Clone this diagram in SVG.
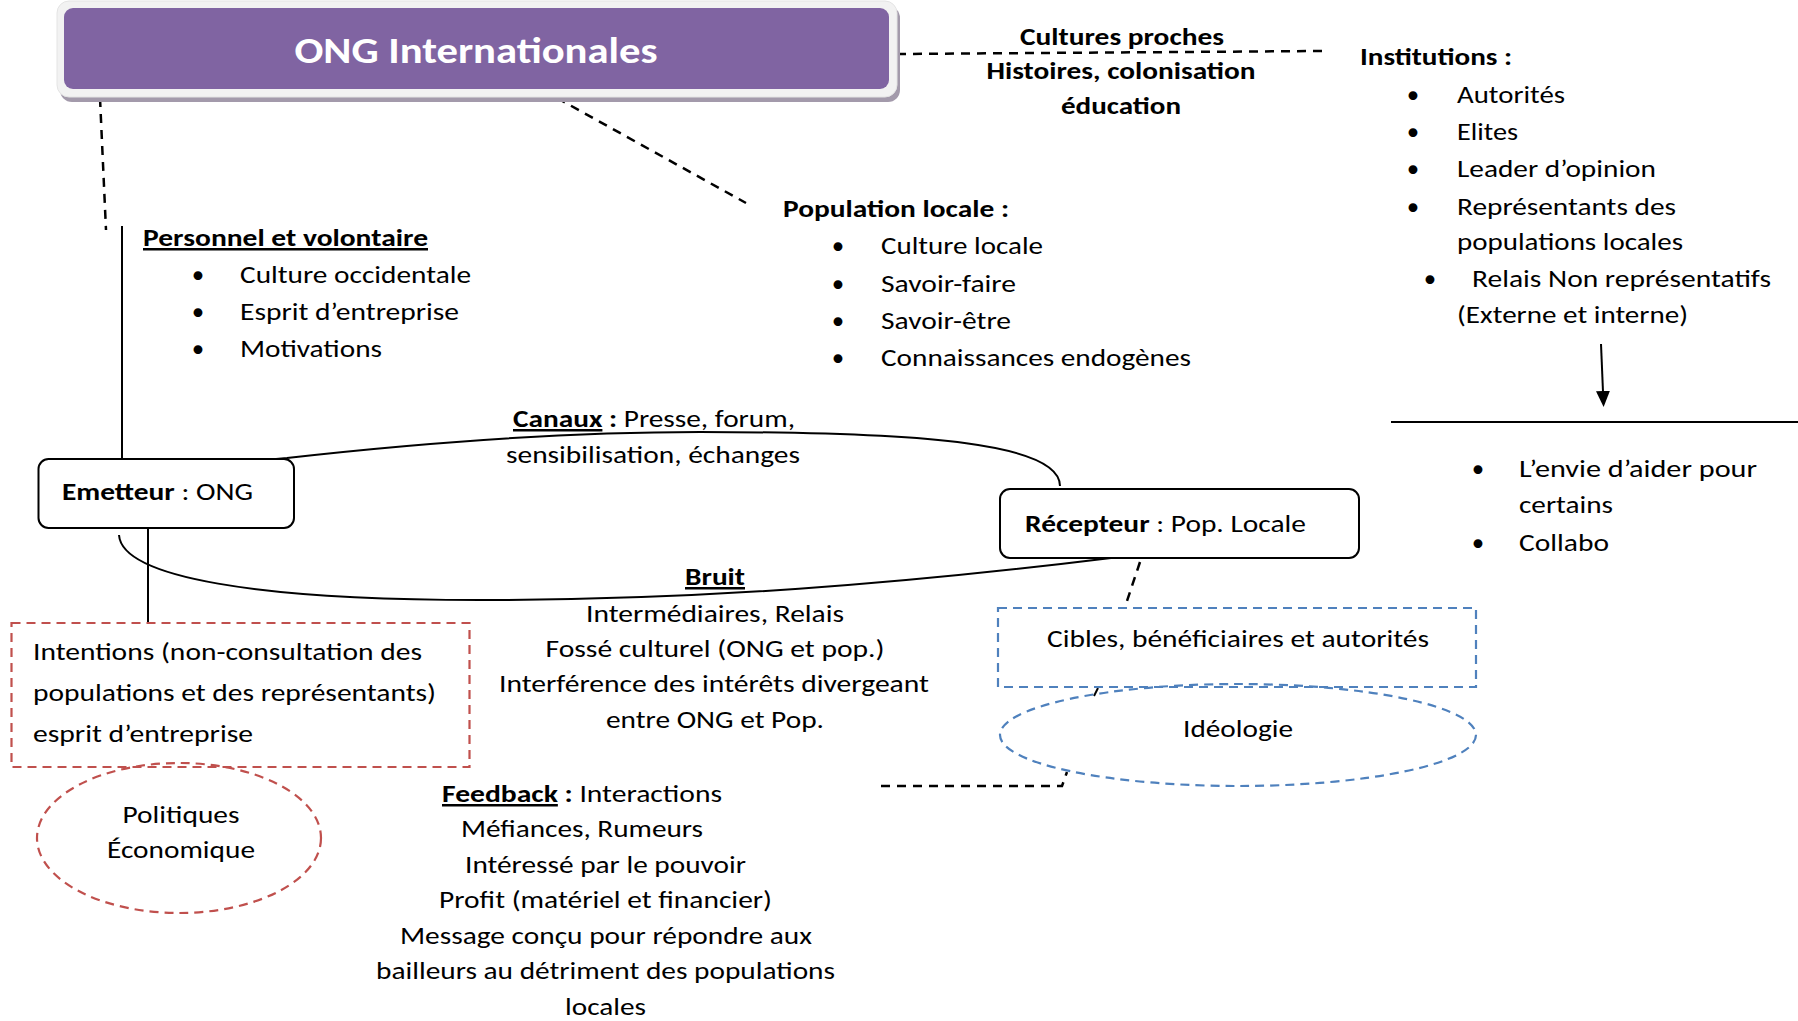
<svg xmlns="http://www.w3.org/2000/svg" width="1798" height="1021" viewBox="0 0 1798 1021">
<style>
text{font-family:Carlito,Lato,"Open Sans",sans-serif;font-size:25px;fill:#000}
.b{font-weight:bold}
.u{text-decoration:underline}
.m{text-anchor:middle}
.ln{fill:none;stroke:#000;stroke-width:2}
.dk{fill:none;stroke:#000;stroke-width:2.5;stroke-dasharray:9 7}
.red{fill:none;stroke:#c0504d;stroke-width:2.2;stroke-dasharray:9 6}
.blue{fill:none;stroke:#4f81bd;stroke-width:2.2;stroke-dasharray:9 6}
.box{fill:#fff;stroke:#000;stroke-width:2}
</style>
<defs>
<marker id="ah" markerWidth="16" markerHeight="14" refX="1" refY="7" orient="auto" markerUnits="userSpaceOnUse" viewBox="0 0 16 14">
<path d="M0,0 L16,7 L0,14 Z" fill="#000"/>
</marker>
</defs>
<rect width="1798" height="1021" fill="#fff"/>

<g id="connectors">
<line class="dk" x1="100" y1="98" x2="106" y2="230"/>
<line class="ln" x1="122" y1="226" x2="122" y2="459"/>
<line class="dk" x1="557" y1="98" x2="746" y2="203"/>
<line class="dk" x1="897" y1="54" x2="1322" y2="51"/>
<line class="ln" x1="1601" y1="344" x2="1603" y2="392" marker-end="url(#ah)"/>
<line class="ln" x1="1391" y1="422" x2="1798" y2="422" stroke-width="2.5"/>
<path class="ln" d="M242,462 L287,458 C420,443 560,432 700,432 C930,432 1060,444 1060,486"/>
<path class="ln" d="M119,535 C122,578 260,600 480,600 C700,600 900,584 1111,558"/>
<line class="ln" x1="148" y1="526" x2="148" y2="622"/>
<line class="dk" x1="1140" y1="562" x2="1125" y2="607" stroke-width="2.2"/>
<line class="ln" x1="1098" y1="688" x2="1094" y2="696"/>
<polyline class="dk" points="881,786 1062,786 1067,772"/>
</g>

<g id="ong">
<rect x="60" y="6" width="840" height="96" rx="12" fill="#a39aab"/>
<rect x="57" y="1" width="840" height="96" rx="12" fill="#f2f2f2" stroke="#e4e4e4" stroke-width="1"/>
<rect x="64" y="8" width="825" height="81" rx="9" fill="#8064a2"/>
<text class="b m" x="476" y="63" style="font-size:36px;fill:#fff" textLength="363" lengthAdjust="spacingAndGlyphs">ONG Internationales</text>
</g>

<g id="cultures">
<text class="b m" x="1122" y="45" textLength="204" lengthAdjust="spacingAndGlyphs">Cultures proches</text>
<text class="b m" x="1121" y="79" textLength="269" lengthAdjust="spacingAndGlyphs">Histoires, colonisation</text>
<text class="b m" x="1121" y="114" textLength="120" lengthAdjust="spacingAndGlyphs">éducation</text>
</g>

<g id="institutions">
<text class="b" x="1360" y="65" textLength="152" lengthAdjust="spacingAndGlyphs">Institutions :</text>
<text class="m" x="1413" y="103">•</text>
<text x="1457" y="103" textLength="108" lengthAdjust="spacingAndGlyphs">Autorités</text>
<text class="m" x="1413" y="140">•</text>
<text x="1457" y="140" textLength="61" lengthAdjust="spacingAndGlyphs">Elites</text>
<text class="m" x="1413" y="177">•</text>
<text x="1457" y="177" textLength="199" lengthAdjust="spacingAndGlyphs">Leader d’opinion</text>
<text class="m" x="1413" y="215">•</text>
<text x="1457" y="215" textLength="219" lengthAdjust="spacingAndGlyphs">Représentants des</text>
<text x="1457" y="250" textLength="226" lengthAdjust="spacingAndGlyphs">populations locales</text>
<text class="m" x="1430" y="287">•</text>
<text x="1472" y="287" textLength="299" lengthAdjust="spacingAndGlyphs">Relais Non représentatifs</text>
<text x="1457" y="323" textLength="231" lengthAdjust="spacingAndGlyphs">(Externe et interne)</text>
</g>

<g id="population">
<text class="b" x="783" y="217" textLength="226" lengthAdjust="spacingAndGlyphs">Population locale :</text>
<text class="m" x="838" y="254">•</text>
<text x="881" y="254" textLength="162" lengthAdjust="spacingAndGlyphs">Culture locale</text>
<text class="m" x="838" y="292">•</text>
<text x="881" y="292" textLength="135" lengthAdjust="spacingAndGlyphs">Savoir-faire</text>
<text class="m" x="838" y="329">•</text>
<text x="881" y="329" textLength="130" lengthAdjust="spacingAndGlyphs">Savoir-être</text>
<text class="m" x="838" y="366">•</text>
<text x="881" y="366" textLength="310" lengthAdjust="spacingAndGlyphs">Connaissances endogènes</text>
</g>

<g id="personnel">
<text class="b u" x="143" y="246" textLength="285" lengthAdjust="spacingAndGlyphs">Personnel et volontaire</text>
<text class="m" x="198" y="283">•</text>
<text x="240" y="283" textLength="231" lengthAdjust="spacingAndGlyphs">Culture occidentale</text>
<text class="m" x="198" y="320">•</text>
<text x="240" y="320" textLength="219" lengthAdjust="spacingAndGlyphs">Esprit d’entreprise</text>
<text class="m" x="198" y="357">•</text>
<text x="240" y="357" textLength="142" lengthAdjust="spacingAndGlyphs">Motivations</text>
</g>

<g id="canaux">
<text x="513" y="427" textLength="282" lengthAdjust="spacingAndGlyphs"><tspan class="b u">Canaux</tspan><tspan class="b"> :</tspan> Presse, forum,</text>
<text x="506" y="463" textLength="294" lengthAdjust="spacingAndGlyphs">sensibilisation, échanges</text>
</g>

<g id="emetteur">
<rect class="box" x="38.5" y="459" width="255.5" height="69" rx="10"/>
<text x="62" y="500" textLength="191" lengthAdjust="spacingAndGlyphs"><tspan class="b">Emetteur</tspan> : ONG</text>
</g>

<g id="recepteur">
<rect class="box" x="1000" y="489" width="359" height="69" rx="10"/>
<text x="1025" y="532" textLength="281" lengthAdjust="spacingAndGlyphs"><tspan class="b">Récepteur</tspan> : Pop. Locale</text>
</g>

<g id="envie">
<text class="m" x="1478" y="477">•</text>
<text x="1519" y="477" textLength="238" lengthAdjust="spacingAndGlyphs">L’envie d’aider pour</text>
<text x="1519" y="513" textLength="94" lengthAdjust="spacingAndGlyphs">certains</text>
<text class="m" x="1478" y="551">•</text>
<text x="1519" y="551" textLength="90" lengthAdjust="spacingAndGlyphs">Collabo</text>
</g>

<g id="bruit">
<text class="b u m" x="715" y="585" textLength="60" lengthAdjust="spacingAndGlyphs">Bruit</text>
<text class="m" x="715" y="622" textLength="258" lengthAdjust="spacingAndGlyphs">Intermédiaires, Relais</text>
<text class="m" x="715" y="657" textLength="339" lengthAdjust="spacingAndGlyphs">Fossé culturel (ONG et pop.)</text>
<text class="m" x="714" y="692" textLength="430" lengthAdjust="spacingAndGlyphs">Interférence des intérêts divergeant</text>
<text class="m" x="715" y="728" textLength="218" lengthAdjust="spacingAndGlyphs">entre ONG et Pop.</text>
</g>

<g id="intentions">
<rect class="red" x="11.5" y="623" width="458" height="144"/>
<text x="33" y="660" textLength="389" lengthAdjust="spacingAndGlyphs">Intentions (non-consultation des</text>
<text x="33" y="701" textLength="403" lengthAdjust="spacingAndGlyphs">populations et des représentants)</text>
<text x="33" y="742" textLength="220" lengthAdjust="spacingAndGlyphs">esprit d’entreprise</text>
</g>

<g id="politiques">
<ellipse class="red" cx="179" cy="838" rx="142" ry="75"/>
<text class="m" x="181" y="823" textLength="117" lengthAdjust="spacingAndGlyphs">Politiques</text>
<text class="m" x="181" y="858" textLength="148" lengthAdjust="spacingAndGlyphs">Économique</text>
</g>

<g id="cibles">
<rect class="blue" x="998" y="608" width="478" height="79"/>
<text class="m" x="1238" y="647" textLength="382" lengthAdjust="spacingAndGlyphs">Cibles, bénéficiaires et autorités</text>
</g>

<g id="ideologie">
<ellipse class="blue" cx="1238" cy="735" rx="238" ry="51"/>
<text class="m" x="1238" y="737" textLength="110" lengthAdjust="spacingAndGlyphs">Idéologie</text>
</g>

<g id="feedback">
<text x="442" y="802" textLength="280" lengthAdjust="spacingAndGlyphs"><tspan class="b u">Feedback</tspan><tspan class="b"> :</tspan> Interactions</text>
<text x="461" y="837" textLength="242" lengthAdjust="spacingAndGlyphs">Méfiances, Rumeurs</text>
<text x="465" y="873" textLength="281" lengthAdjust="spacingAndGlyphs">Intéressé par le pouvoir</text>
<text x="439" y="908" textLength="333" lengthAdjust="spacingAndGlyphs">Profit (matériel et financier)</text>
<text x="400" y="944" textLength="412" lengthAdjust="spacingAndGlyphs">Message conçu pour répondre aux</text>
<text x="376" y="979" textLength="459" lengthAdjust="spacingAndGlyphs">bailleurs au détriment des populations</text>
<text x="565" y="1015" textLength="81" lengthAdjust="spacingAndGlyphs">locales</text>
</g>
</svg>
